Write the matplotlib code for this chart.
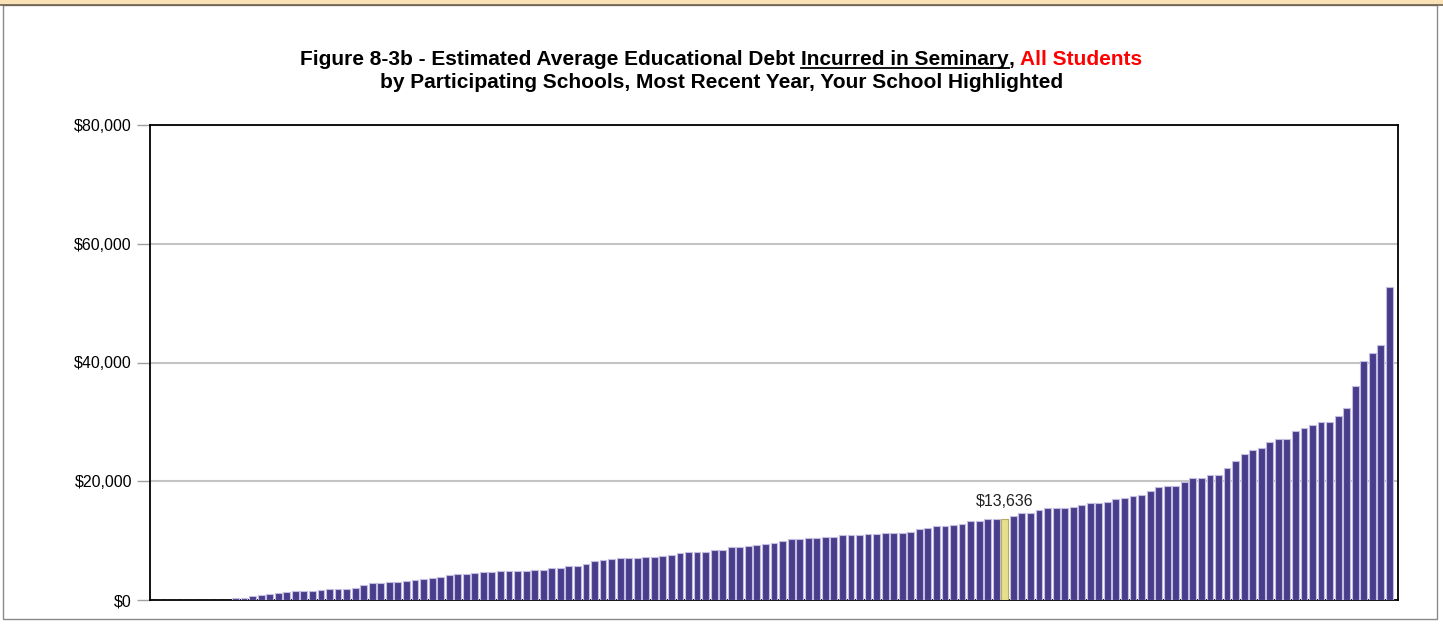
import numpy as np
import matplotlib
matplotlib.use('Agg')
import matplotlib.pyplot as plt
from matplotlib.patches import Rectangle
from matplotlib.lines import Line2D

plt.rcParams['font.family'] = ['Liberation Sans', 'DejaVu Sans']

# ──── Data (one value per participating school, sorted) ────────
ZERO_SCHOOLS = [0, 0, 0, 0, 0, 0, 0, 0, 0]
DEBT = [
    280, 400, 620, 840, 1070, 1180, 1290, 1520, 1520, 1520,
    1630, 1880, 1880, 1880, 2020, 2450, 2810, 2860, 2980, 3090,
    3180, 3310, 3500, 3650, 3930, 4180, 4320, 4380, 4520, 4700,
    4800, 4880, 4880, 4880, 4880, 5130, 5130, 5450, 5450, 5780,
    5780, 6010, 6650, 6770, 6880, 6990, 6990, 7050, 7160, 7300,
    7410, 7630, 7860, 8030, 8030, 8140, 8360, 8360, 8870, 8870,
    9090, 9210, 9350, 9650, 9990, 10270, 10270, 10390, 10390, 10610,
    10610, 10890, 10890, 11000, 11110, 11110, 11230, 11230, 11230, 11400,
    11960, 12070, 12460, 12460, 12630, 12800, 13270, 13360, 13590, 13590,
    13636, 14090, 14590, 14650, 15100, 15440, 15490, 15490, 15720, 16050,
    16390, 16390, 16500, 17010, 17230, 17460, 17680, 18300, 19030, 19250,
    19250, 19930, 20540, 20540, 20990, 21100, 22170, 23460, 24590, 25200,
    25540, 26610, 27050, 27050, 28460, 28910, 29520, 29970, 29970, 31040,
    32280, 36090, 40250, 41540, 42880, 52760,
]
HIGHLIGHT_IDX = 99
HIGHLIGHT_LABEL = '$13,636'

Y_TICKS = [0, 20000, 40000, 60000, 80000]
Y_TICK_LABELS = ['$0', '$20,000', '$40,000', '$60,000', '$80,000']

TITLE_1 = [('Figure 8-3b - Estimated Average Educational Debt', 'black', False),
           ('Incurred in Seminary', 'black', True),
           (',', 'black', False),
           ('All Students', 'red', False)]
GAP_BEFORE = [False, True, False, True]
TITLE_2 = 'by Participating Schools, Most Recent Year, Your School Highlighted'

W, H = 1443, 627
BAR_C = '#483d8b'
BAR_EDGE = '#c4bde0'
HL_C = '#e6df8c'
HL_EDGE = '#b5ae5c'
TITLE_SIZE = 15
LABEL_SIZE = 11.5


def px(x, y):
    """pixel (from top-left) -> figure fraction"""
    return x / W, 1 - y / H


def title_line(fig, pieces, gaps, y_base, size):
    r = fig.canvas.get_renderer()
    xf, yf = px(0, y_base)
    texts = [fig.text(0, yf, s, color=c, fontsize=size, fontweight='bold',
                      ha='left', va='baseline') for s, c, u in pieces]
    widths = [t.get_window_extent(r).width for t in texts]
    probe = fig.text(0, 0, 'x x', fontsize=size, fontweight='bold')
    probe2 = fig.text(0, 0, 'xx', fontsize=size, fontweight='bold')
    sp = probe.get_window_extent(r).width - probe2.get_window_extent(r).width
    probe.remove(); probe2.remove()
    total = sum(widths) + sp * sum(gaps)
    x = W / 2 - total / 2
    for t, w, g, (s, c, u) in zip(texts, widths, gaps, pieces):
        if g:
            x += sp
        t.set_x(x / W)
        if u:
            yy = 1 - (y_base + 3) / H
            fig.add_artist(Line2D([x / W, (x + w) / W], [yy, yy],
                                  transform=fig.transFigure, color=c, lw=1.3))
        x += w


def main():
    values = np.asarray(ZERO_SCHOOLS + DEBT, dtype=float)
    n = len(values)
    xs = np.arange(n)

    fig = plt.figure(figsize=(W / 100, H / 100), dpi=100)

    # page frame + top band
    fig.add_artist(Rectangle(px(0, 4), 1, 4 / H, transform=fig.transFigure,
                             facecolor='#f9e2b6', edgecolor='none'))
    fig.add_artist(Line2D([0, 1], [1 - 4.5 / H] * 2, transform=fig.transFigure,
                          color='#6e6048', lw=1.2))
    x0, y0 = px(2.5, 619)
    fig.add_artist(Rectangle((x0, y0), (1437 - 2.5) / W, (619 - 4.5) / H,
                             transform=fig.transFigure, facecolor='none',
                             edgecolor='#8a8a8a', lw=1.0))

    left, right, top, bottom = 150, 1398, 125, 600
    ax = fig.add_axes([left / W, 1 - bottom / H, (right - left) / W, (bottom - top) / H])

    colors = [HL_C if i == HIGHLIGHT_IDX else BAR_C for i in xs]
    edges = [HL_EDGE if i == HIGHLIGHT_IDX else BAR_EDGE for i in xs]
    ax.bar(xs, values, width=0.8, color=colors, edgecolor=edges, lw=0.8, zorder=3)

    ax.annotate(HIGHLIGHT_LABEL, (HIGHLIGHT_IDX, values[HIGHLIGHT_IDX]),
                xytext=(0, 7), textcoords='offset points', ha='center', va='bottom',
                fontsize=LABEL_SIZE, color='#222222', zorder=4)

    ax.set_xlim(-1, n)
    ax.set_ylim(0, 80000)
    ax.set_yticks(Y_TICKS)
    ax.set_yticklabels(Y_TICK_LABELS, fontsize=LABEL_SIZE)
    ax.set_xticks([])
    ax.tick_params(axis='y', length=9.5, width=1.0, color='#a0a0a0', pad=3.5)
    ax.yaxis.grid(True, color='#c4c4c4', lw=1.5, zorder=0)
    ax.set_axisbelow(True)
    for s in ax.spines.values():
        s.set_color('black')
        s.set_linewidth(1.3)

    title_line(fig, TITLE_1, GAP_BEFORE, 65, TITLE_SIZE)
    xf, yf = px(W / 2, 88.5)
    fig.text(xf, yf, TITLE_2, fontsize=TITLE_SIZE, fontweight='bold', ha='center', va='baseline')

    fig.savefig('out.png', dpi=100)
    plt.close(fig)


if __name__ == '__main__':
    main()
